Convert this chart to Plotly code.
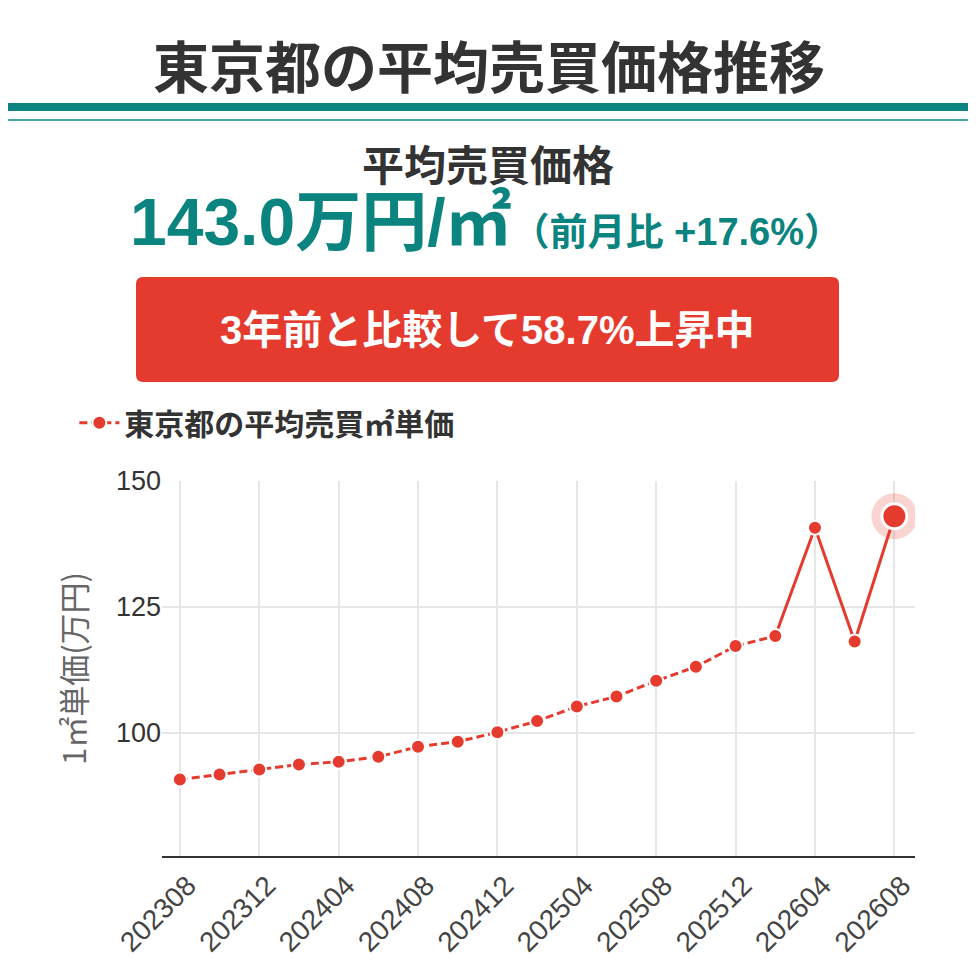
import plotly.graph_objects as go

# 東京都の平均売買㎡単価 (万円)
months = ['202308', '202310', '202312', '202402', '202404', '202406', '202408',
          '202410', '202412', '202502', '202504', '202506', '202508', '202510',
          '202512', '202602', '202604', '202606', '202608']
prices = [90.7, 91.7, 92.7, 93.7, 94.2, 95.2, 97.2, 98.2, 100.1, 102.3, 105.2,
          107.2, 110.3, 113.1, 117.2, 119.2, 140.7, 118.1, 143.0]
tick_months = months[::2]
y_ticks = [100, 125, 150]

RED = '#e53b2e'
TEAL = '#0b847f'
FONT = 'Liberation Sans, Noto Sans CJK JP'
JP = 'Noto Sans CJK JP'

fig = go.Figure()

# dashed part (normal months)
fig.add_trace(go.Scatter(
    x=months[:16], y=prices[:16], mode='lines+markers', name='<b>東京都の平均売買㎡単価</b>',
    line=dict(color=RED, width=3, dash='8px,4px'),
    marker=dict(size=14, color=RED, line=dict(color='white', width=2)),
))
# solid part (latest months)
fig.add_trace(go.Scatter(
    x=months[15:], y=prices[15:], mode='lines+markers', showlegend=False,
    line=dict(color=RED, width=3),
    marker=dict(size=14, color=RED, line=dict(color='white', width=2)),
))
# highlight on the latest point
fig.add_trace(go.Scatter(
    x=months[-1:], y=prices[-1:], mode='markers', showlegend=False,
    marker=dict(size=46, color='rgba(229,59,46,0.22)', line=dict(width=0)),
))
fig.add_trace(go.Scatter(
    x=months[-1:], y=prices[-1:], mode='markers', showlegend=False,
    marker=dict(size=25, color=RED, line=dict(color='white', width=3)),
))

fig.update_layout(
    width=976, height=976,
    margin=dict(l=154, r=69, t=473, b=128),
    paper_bgcolor='white', plot_bgcolor='white',
    font=dict(family=FONT, color='#333'),
    showlegend=True,
    legend=dict(
        xref='container', yref='container', x=0.068, y=0.575,
        xanchor='left', yanchor='middle', itemwidth=40, orientation='h',
        font=dict(size=30, color='#333', family=JP),
        bgcolor='rgba(0,0,0,0)',
    ),
    xaxis=dict(
        type='category', range=[-0.45, 18.52], automargin=False,
        tickmode='array', tickvals=tick_months, ticktext=tick_months,
        tickangle=-45, tickfont=dict(size=28, color='#444', family='Liberation Sans'),
        ticklabelshift=8,
        showgrid=True, gridcolor='#e6e6e6', gridwidth=2,
        showline=True, linecolor='#333', linewidth=2,
        ticks='', zeroline=False,
    ),
    yaxis=dict(
        range=[75.5, 150], tickvals=y_ticks, automargin=False,
        tickfont=dict(size=27, color='#333', family='Liberation Sans'),
        showgrid=True, gridcolor='#e6e6e6', gridwidth=2,
        showline=False, ticks='', zeroline=False,
        title=dict(text='1㎡単価(万円)', font=dict(size=31, color='#666', family=JP),
                   standoff=20),
    ),
)


# screen pixel coordinates converted to paper
def px_x(v):
    return (v - 162) / 753


def px_y(v):
    return (856 - v) / 375


# header lines
fig.add_shape(type='rect', xref='paper', yref='paper', x0=px_x(-5), x1=px_x(990),
              y0=px_y(111), y1=px_y(103),
              fillcolor=TEAL, line=dict(width=0), layer='above')
fig.add_shape(type='rect', xref='paper', yref='paper', x0=px_x(-5), x1=px_x(990),
              y0=px_y(121), y1=px_y(119),
              fillcolor='#4aa7a3', line=dict(width=0), layer='above')

# red banner with rounded corners
bx0, bx1, by0, by1, rr = 136, 839, 277, 382, 7
path = (f'M {px_x(bx0 + rr)},{px_y(by0)} L {px_x(bx1 - rr)},{px_y(by0)} '
        f'Q {px_x(bx1)},{px_y(by0)} {px_x(bx1)},{px_y(by0 + rr)} '
        f'L {px_x(bx1)},{px_y(by1 - rr)} Q {px_x(bx1)},{px_y(by1)} {px_x(bx1 - rr)},{px_y(by1)} '
        f'L {px_x(bx0 + rr)},{px_y(by1)} Q {px_x(bx0)},{px_y(by1)} {px_x(bx0)},{px_y(by1 - rr)} '
        f'L {px_x(bx0)},{px_y(by0 + rr)} Q {px_x(bx0)},{px_y(by0)} {px_x(bx0 + rr)},{px_y(by0)} Z')
fig.add_shape(type='path', xref='paper', yref='paper', path=path,
              fillcolor=RED, line=dict(width=0), layer='above')

texts = [
    ('<b>東京都の平均売買価格推移</b>', 489, 64, 56, '#333', JP),
    ('<b>平均売買価格</b>', 488, 162, 42, '#333', JP),
    ('<b>143.0万円/㎡</b><span style="font-size:38px"><b>（前月比 +17.6%）</b></span>',
     486, 222, 66, TEAL, FONT),
    ('<b>3年前と比較して58.7%上昇中</b>', 487, 330, 40, 'white', FONT),
]
for txt, sx, sy, size, color, family in texts:
    fig.add_annotation(text=txt, xref='paper', yref='paper', x=px_x(sx), y=px_y(sy),
                       xanchor='center', yanchor='middle', showarrow=False,
                       font=dict(size=size, color=color, family=family))

fig.write_html('out.html')
